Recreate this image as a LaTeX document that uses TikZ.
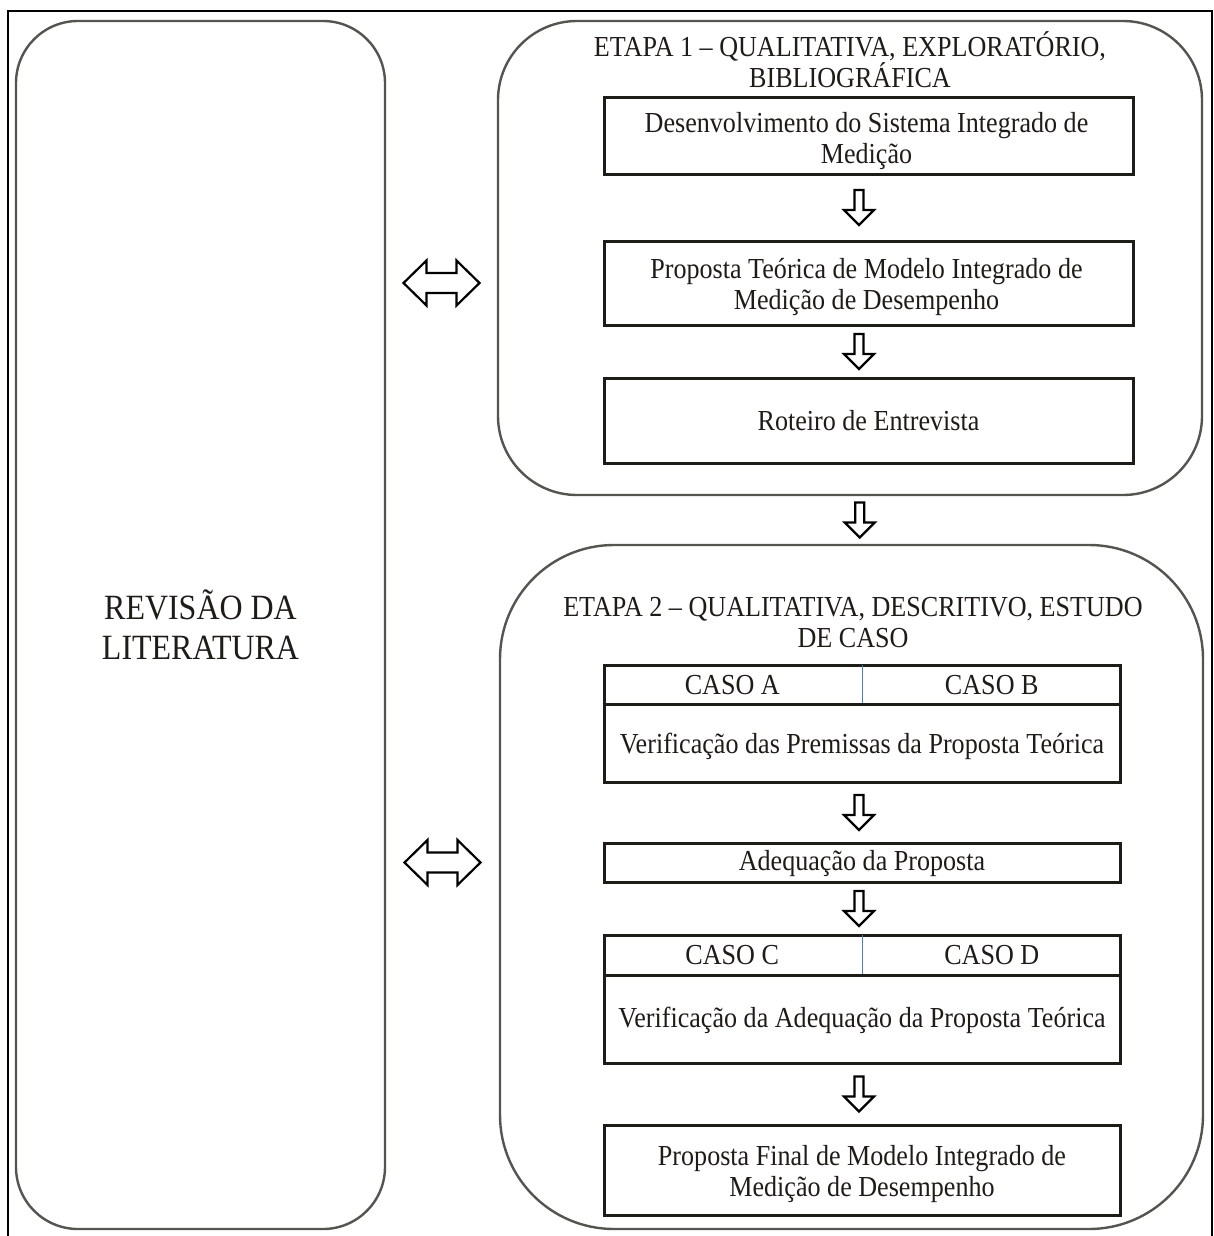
\documentclass[tikz,border=0pt]{standalone}
\usepackage{fontspec}
\setmainfont{Liberation Serif}[FakeStretch=0.9]
\usetikzlibrary{calc}
\definecolor{panelgray}{HTML}{55554F}
\definecolor{ink}{HTML}{1E1C17}
\definecolor{divblue}{HTML}{4A7EBB}
\tikzset{
  panel/.style={draw=panelgray, line width=2.4pt, rectangle, inner sep=0pt},
  stepbox/.style={draw=ink, line width=3pt, rectangle, inner sep=0pt, align=center,
    text=ink, font=\fontsize{29}{31}\selectfont},
  label/.style={align=center, text=ink, font=\fontsize{29}{31}\selectfont, inner sep=0pt},
  blockarrow/.style={draw=black, line width=2.2pt, fill=white, line join=miter},
  pics/downarr/.style={code={
    \draw[blockarrow] (-4.5,-17.5) -- (4.5,-17.5) -- (4.5,2.5) -- (15,2.5) -- (0,17.5)
      -- (-15,2.5) -- (-4.5,2.5) -- cycle;}},
  pics/twoway/.style={code={
    \draw[blockarrow] (-38,0) -- (-15,-22.5) -- (-15,-10) -- (15,-10) -- (15,-22.5)
      -- (38,0) -- (15,22.5) -- (15,10) -- (-15,10) -- (-15,22.5) -- cycle;}},
}
\begin{document}
\begin{tikzpicture}[x=1pt,y=-1pt]
\useasboundingbox (0,0) rectangle (1214,1236);
\fill[white] (0,0) rectangle (1214,1236);
% open frame
\draw[black, line width=2.2pt] (8,1236) -- (8,11) -- (1212,11) -- (1212,1236);

% literature column and the two stage panels
\node[panel, minimum width=369pt, minimum height=1208pt, rounded corners=62pt,
  align=center, text=ink, font=\fontsize{35.5}{40}\selectfont] (lit) at (200.5,625)
  {REVISÃO DA\\LITERATURA};
\node[panel, minimum width=704pt, minimum height=474pt, rounded corners=79pt] (e1) at (850,258) {};
\node[panel, minimum width=703pt, minimum height=684pt, rounded corners=114pt] (e2) at (851.5,887) {};

\node[label] (t1) at (850,60) {ETAPA 1 – QUALITATIVA, EXPLORATÓRIO,\\BIBLIOGRÁFICA};
\node[label] (t2) at (853,622.5) {ETAPA 2 – QUALITATIVA, DESCRITIVO, ESTUDO\\DE CASO};

% stage 1 steps
\node[stepbox, minimum width=529pt, minimum height=76pt] (b1) at (868.5,136) {};
\node[label] (b1txt) at ($(b1.center)+(-2,5)$) {Desenvolvimento do Sistema Integrado de\\Medição};
\node[stepbox, minimum width=529pt, minimum height=84pt] (b2) at (868.5,283) {};
\node[label] (b2txt) at ($(b2.center)+(-2,4)$) {Proposta Teórica de Modelo Integrado de\\Medição de Desempenho};
\node[stepbox, minimum width=529pt, minimum height=85pt] (b3) at (868.5,420.5)
  {Roteiro de Entrevista};

% stage 2 steps
\node[stepbox, minimum width=516pt, minimum height=117pt] (cAB) at (862,723.5) {};
\draw[ink, line width=3pt] ($(cAB.north west)+(0,41)$) -- ($(cAB.north east)+(0,41)$);
\draw[divblue, line width=1pt] ($(cAB.north)+(0,1.5)$) -- ($(cAB.north)+(0,39.5)$);
\node[label] (caseA) at ($(cAB.north west)!0.5!(cAB.north)+(0,21.5)$) {CASO A};
\node[label] (caseB) at ($(cAB.north)!0.5!(cAB.north east)+(0,21.5)$) {CASO B};
\node[label] (verA) at ($(cAB.center)+(0,22.5)$) {Verificação das Premissas da Proposta Teórica};

\node[stepbox, minimum width=516pt, minimum height=39pt] (adeq) at (862,862.5) {};
\node[label] (adeqtxt) at ($(adeq.center)+(0,1.5)$) {Adequação da Proposta};

\node[stepbox, minimum width=516pt, minimum height=128pt] (cCD) at (862,999) {};
\draw[ink, line width=3pt] ($(cCD.north west)+(0,42)$) -- ($(cCD.north east)+(0,42)$);
\draw[divblue, line width=1pt] ($(cCD.north)+(0,1.5)$) -- ($(cCD.north)+(0,40.5)$);
\node[label] (caseC) at ($(cCD.north west)!0.5!(cCD.north)+(0,21.5)$) {CASO C};
\node[label] (caseD) at ($(cCD.north)!0.5!(cCD.north east)+(0,21.5)$) {CASO D};
\node[label] (verC) at ($(cCD.center)+(0,21.5)$) {Verificação da Adequação da Proposta Teórica};

\node[stepbox, minimum width=516pt, minimum height=90pt] (fin) at (862,1170) {};
\node[label] (fintxt) at ($(fin.center)+(0,4)$) {Proposta Final de Modelo Integrado de\\Medição de Desempenho};

% block arrows
\pic at ($(b1.south)!0.5!(b2.north)+(-9.5,0)$) {downarr};
\pic at ($(b2.south)!0.5!(b3.north)+(-9.5,0)$) {downarr};
\pic at ($(e1.south)!0.5!(e2.north)+(9,0)$) {downarr};
\pic at ($(cAB.south)!0.5!(adeq.north)+(-3,0)$) {downarr};
\pic at ($(adeq.south)!0.5!(cCD.north)+(-3,0)$) {downarr};
\pic at ($(cCD.south)!0.5!(fin.north)+(-3,0)$) {downarr};

\pic at ($(lit.east |- b2.west)!0.5!(e1.west |- b2.west)$) {twoway};
\pic at ($(lit.east |- adeq.west)!0.5!(e2.west |- adeq.west)$) {twoway};
\end{tikzpicture}
\end{document}
